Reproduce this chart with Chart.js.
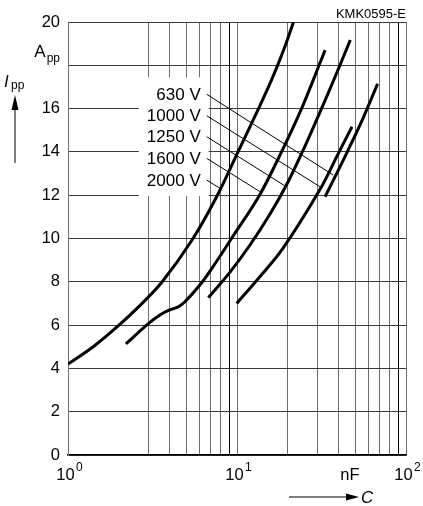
<!DOCTYPE html>
<html>
<head>
<meta charset="utf-8">
<script src="https://cdn.jsdelivr.net/npm/chart.js@4.4.1/dist/chart.umd.min.js"></script>
<style>
    html, body { margin: 0; padding: 0; background: #fff; }
    #wrap { width: 423px; height: 506px; }
</style>
</head>
<body>
<div id="wrap"><canvas id="chart"></canvas></div>
<script>
// Peak current I_pp (A) vs capacitance C (nF), one curve per rated voltage
const voltages = ['630 V', '1000 V', '1250 V', '1600 V', '2000 V'];

const c630 = [33.2, 42.4, 54.3, 67.9];
const i630 = [11.93, 13.6, 15.36, 17.14];

const c1000 = [9.96, 13.3, 18.6, 30.9, 39.6, 47.9];
const i1000 = [7.0, 8.13, 9.52, 12.25, 13.9, 15.16];

const c1250 = [6.77, 9.09, 11.94, 15.68, 20.04, 25.26, 30.98, 38.02, 46.82];
const i1250 = [7.27, 8.45, 9.7, 11.13, 12.61, 14.27, 15.84, 17.46, 19.17];

const c1600 = [2.2, 3.0, 3.5, 4.0, 4.5, 4.92, 6.03, 7.1, 9.28, 13.59, 18.34, 24.1, 30.6, 33.2];
const i1600 = [5.13, 6.08, 6.47, 6.7, 6.85, 7.08, 7.85, 8.62, 10.0, 12.0, 14.0, 16.0, 18.0, 18.7];

const c2000 = [1.0, 1.41, 1.98, 2.67, 3.6, 5.42, 7.51, 10.14, 13.3, 16.11, 18.97, 21.6];
const i2000 = [4.2, 5.0, 5.96, 6.91, 7.99, 9.93, 11.87, 14.0, 15.94, 17.37, 18.75, 20.0];

// leader lines from the voltage labels to their curves
const leaderStartC = 6.62;
const leaderStartI = [16.66, 15.67, 14.70, 13.70, 12.70];
const leaderEndC = [37.1, 31.0, 19.5, 13.7, 7.93];
const leaderEndI = [12.93, 12.39, 12.40, 12.16, 12.32];

// axes
const xGridValues = [1, 3, 4, 5, 6, 7, 8, 9, 10, 20, 30, 40, 50, 60, 70, 80, 90, 100];
const xDecadeLabels = [[1, '0'], [10, '1'], [100, '2']];
const xUnitAt = 46.6;
const yMin = 0;
const yMax = 20;
const yStep = 2;
const yUnitAt = 18;

const FONT = '"Liberation Sans", Arial, sans-serif';

const curves = [
    [c630, i630],
    [c1000, i1000],
    [c1250, i1250],
    [c1600, i1600],
    [c2000, i2000],
];

const toPoints = (cs, is) => cs.map((c, k) => ({ x: c, y: is[k] }));

const datasets = curves.map(([cs, is], idx) => ({
    label: voltages[idx],
    data: toPoints(cs, is),
    borderColor: '#000',
    borderWidth: 3,
    tension: 0.35,
    pointRadius: 0,
    fill: false,
}));

voltages.forEach((v, idx) => {
    datasets.push({
        label: v + ' leader',
        data: [
            { x: leaderStartC, y: leaderStartI[idx] },
            { x: leaderEndC[idx], y: leaderEndI[idx] },
        ],
        borderColor: '#000',
        borderWidth: 1,
        pointRadius: 0,
        tension: 0,
        fill: false,
    });
});

const annotations = {
    id: 'annotations',
    beforeDatasetsDraw(chart) {
        const { ctx, scales: { x, y } } = chart;
        ctx.save();
        ctx.font = `17px ${FONT}`;
        const anchorX = x.getPixelForValue(leaderStartC);
        const widest = Math.max(...voltages.map((v) => ctx.measureText(v).width));
        const top = y.getPixelForValue(leaderStartI[0]) - 17;
        const bottom = y.getPixelForValue(leaderStartI[leaderStartI.length - 1]) + 16;
        ctx.fillStyle = '#fff';
        ctx.fillRect(anchorX - 6 - widest - 8, top, widest + 16, bottom - top);

        ctx.fillStyle = '#000';
        ctx.textAlign = 'right';
        ctx.textBaseline = 'middle';
        voltages.forEach((v, idx) => {
            ctx.fillText(v, anchorX - 6, y.getPixelForValue(leaderStartI[idx]) + 1);
        });
        ctx.restore();
    },
    afterDraw(chart) {
        const { ctx, chartArea, scales: { x, y } } = chart;
        ctx.save();
        ctx.fillStyle = '#000';
        ctx.strokeStyle = '#000';
        ctx.textBaseline = 'alphabetic';

        // decade labels with superscripts
        const base = chartArea.bottom + 25;
        xDecadeLabels.forEach(([value, exp]) => {
            ctx.font = `16.5px ${FONT}`;
            const w10 = ctx.measureText('10').width;
            ctx.font = `12px ${FONT}`;
            const wExp = ctx.measureText(exp).width;
            const left = x.getPixelForValue(value) + 1.5 - (w10 + 1.5 + wExp) / 2;
            ctx.textAlign = 'left';
            ctx.font = `16.5px ${FONT}`;
            ctx.fillText('10', left, base);
            ctx.font = `12px ${FONT}`;
            ctx.fillText(exp, left + w10 + 1.5, base - 9.5);
        });

        ctx.font = `16.5px ${FONT}`;
        ctx.textAlign = 'center';
        ctx.fillText('nF', x.getPixelForValue(xUnitAt), base);

        // C arrow
        const ay = chartArea.bottom + 42;
        ctx.lineWidth = 1;
        ctx.beginPath();
        ctx.moveTo(289, ay);
        ctx.lineTo(348, ay);
        ctx.stroke();
        ctx.beginPath();
        ctx.moveTo(359, ay);
        ctx.lineTo(346, ay - 3.5);
        ctx.lineTo(346, ay + 3.5);
        ctx.closePath();
        ctx.fill();
        ctx.font = `italic 17px ${FONT}`;
        ctx.textAlign = 'left';
        ctx.fillText('C', 361, ay + 6);

        // A_pp unit at the 18 gridline
        const unitY = y.getPixelForValue(yUnitAt) - 8;
        ctx.font = `12px ${FONT}`;
        const wpp = ctx.measureText('pp').width;
        ctx.textAlign = 'right';
        ctx.fillText('pp', chartArea.left - 8, unitY + 5);
        ctx.font = `17px ${FONT}`;
        ctx.fillText('A', chartArea.left - 8 - wpp - 1, unitY);

        // I_pp with upward arrow
        ctx.textAlign = 'left';
        ctx.font = `italic 17px ${FONT}`;
        ctx.fillText('I', 4, 87);
        ctx.font = `12px ${FONT}`;
        ctx.fillText('pp', 11, 89);
        ctx.beginPath();
        ctx.moveTo(15, 163);
        ctx.lineTo(15, 108);
        ctx.stroke();
        ctx.beginPath();
        ctx.moveTo(15, 95);
        ctx.lineTo(11.5, 110);
        ctx.lineTo(18.5, 110);
        ctx.closePath();
        ctx.fill();

        // drawing number
        ctx.font = `13px ${FONT}`;
        ctx.textAlign = 'right';
        ctx.fillText('KMK0595-E', chartArea.right, 18);
        ctx.restore();
    },
};

new Chart(document.getElementById('chart'), {
    type: 'line',
    data: { datasets },
    options: {
        responsive: true,
        maintainAspectRatio: false,
        animation: false,
        events: [],
        layout: {
            padding: { top: 22, right: 17, left: 0, bottom: 0 },
        },
        plugins: {
            legend: { display: false },
            tooltip: { enabled: false },
        },
        scales: {
            x: {
                type: 'logarithmic',
                min: 1,
                max: 100,
                afterBuildTicks: (scale) => {
                    scale.ticks = xGridValues.map((value) => ({ value }));
                },
                afterFit: (scale) => {
                    scale.height = 51;
                },
                ticks: { display: false },
                grid: {
                    drawTicks: false,
                    lineWidth: 1,
                    color: (ctx) => (ctx.tick && (ctx.tick.value === 9 || ctx.tick.value === 90) ? '#000' : '#6e6e6e'),
                },
                border: { color: '#000', width: 1.5 },
            },
            y: {
                min: yMin,
                max: yMax,
                afterFit: (scale) => {
                    scale.width = 68;
                },
                ticks: {
                    stepSize: yStep,
                    padding: 8,
                    color: '#000',
                    font: { family: FONT, size: 16.5 },
                    callback: (value) => (value === yUnitAt ? '' : value),
                },
                grid: {
                    drawTicks: false,
                    lineWidth: 1,
                    color: '#3a3a3a',
                },
                border: { color: '#6e6e6e' },
            },
        },
    },
    plugins: [annotations],
});
</script>
</body>
</html>
